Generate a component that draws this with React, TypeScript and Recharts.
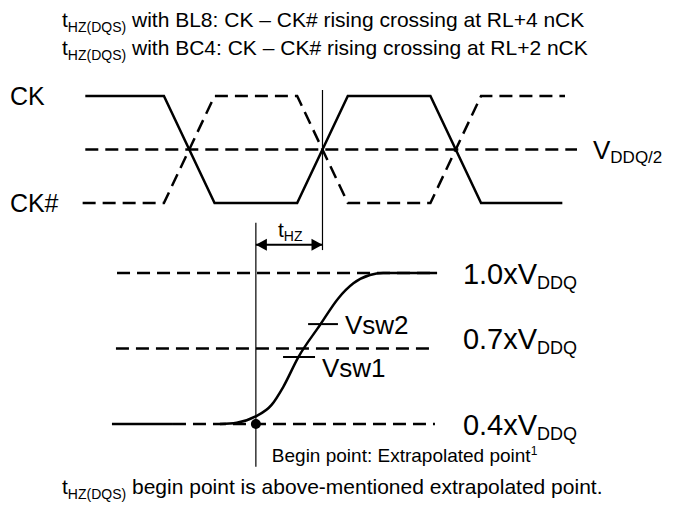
import React from "react";
import { ComposedChart, Line, XAxis, YAxis, ReferenceDot } from "recharts";

const W = 678;
const H = 509;
const FONT = "'Liberation Sans', Arial, sans-serif";

// time axis in tCK, CK / CK# cross at 0.5, 1.0 and 1.5
const ckTimes = [0.11, 0.405, 0.595, 0.905, 1.095, 1.405, 1.595, 1.9];
const ckLevels = [1, 1, 0, 0, 1, 1, 0, 0];
const ckbTimes = [0.1, 0.405, 0.595, 0.905, 1.095, 1.405, 1.595, 1.91];
const ckbLevels = [0, 0, 1, 1, 0, 0, 1, 1];
const halfLevel = 0.5;
const halfSpan = [0.11, 1.955];

const crossTime = 1.0; // CK - CK# rising crossing
const beginTime = 0.75; // extrapolated begin point
const crossLineSpan = [1.056, -0.44]; // in clock levels
const beginLineSpan = [1.2, 0.23]; // in xVDDQ
const arrowLevel = -0.39;

// DQS output, in xVDDQ
const refLevels = [1.0, 0.7, 0.4];
const refStarts = [0.229, 0.225, 0.439];
const refEnd = 1.422;
const lowSpan = [0.21, 0.439];
const dqsTimes = [0.615, 0.678, 0.747, 0.809, 0.853, 0.909, 0.991, 1.059, 1.116, 1.178, 1.228, 1.43];
const dqsValues = [0.4, 0.405, 0.429, 0.476, 0.548, 0.665, 0.794, 0.899, 0.959, 0.992, 1.0, 1.0];
const vsw1 = 0.666;
const vsw1Span = [0.852, 0.972];
const vsw2 = 0.797;
const vsw2Span = [0.946, 1.058];

// axis domains (schematic scale)
const X_DOMAIN = [-0.2101, 2.334];
const CLK_DOMAIN = [-2.8598, 1.8972];
const OUT_DOMAIN = [0.0623, 2.0848];

const pts = (ts: number[], vs: number[]) => ts.map((t, i) => ({ t, v: vs[i] }));
const hline = (span: number[], v: number) => [{ t: span[0], v }, { t: span[1], v }];
const vline = (t: number, span: number[]) => [{ t, v: span[0] }, { t, v: span[1] }];

function arrowDot(props: any) {
  const { cx, cy, index } = props;
  const d = index === 0 ? 11 : -11;
  return (
    <path
      key={`arr-${index}`}
      d={`M${cx},${cy} L${cx + d},${cy - 6} L${cx + d},${cy + 6} Z`}
      fill="#000"
    />
  );
}

function label(main: string, sub: string | null, size: number, subSize: number, dx: number, dy: number, sup?: string) {
  return (p: any) => (
    <text x={p.cx + dx} y={p.cy + dy} fontFamily={FONT} fontSize={size} fill="#000">
      {main}
      {sub && (
        <tspan fontSize={subSize} dy={subSize * 0.28}>
          {sub}
        </tspan>
      )}
      {sup && (
        <tspan fontSize={subSize} dy={-size * 0.36}>
          {sup}
        </tspan>
      )}
    </text>
  );
}

const thick = {
  stroke: "#000",
  strokeWidth: 2.5,
  dot: false,
  activeDot: false,
  isAnimationActive: false,
  type: "linear" as const,
};
const thin = { ...thick, strokeWidth: 1.2 };

function Sub({ children }: { children: React.ReactNode }) {
  return <span style={{ fontSize: 14, verticalAlign: -5 }}>{children}</span>;
}

export default function App() {
  const textRow = (top: number) => ({
    position: "absolute" as const,
    left: 62,
    top,
    fontFamily: FONT,
    fontSize: 21,
    lineHeight: "21px",
    whiteSpace: "nowrap" as const,
    color: "#000",
  });
  return (
    <div style={{ position: "absolute", left: 0, top: 0, width: W, height: H, background: "#fff" }}>
      <ComposedChart width={W} height={H} margin={{ top: 0, right: 0, bottom: 0, left: 0 }}>
        <XAxis type="number" dataKey="t" domain={X_DOMAIN} allowDataOverflow hide />
        <YAxis yAxisId="clk" type="number" domain={CLK_DOMAIN} allowDataOverflow hide />
        <YAxis yAxisId="out" type="number" domain={OUT_DOMAIN} allowDataOverflow hide />

        {/* clock */}
        <Line yAxisId="clk" data={hline(halfSpan, halfLevel)} dataKey="v" {...thick} strokeDasharray="13 7" />
        <Line yAxisId="clk" data={pts(ckbTimes, ckbLevels)} dataKey="v" {...thick} strokeDasharray="13 7" />
        <Line yAxisId="clk" data={pts(ckTimes, ckLevels)} dataKey="v" {...thick} />

        {/* tHZ */}
        <Line yAxisId="clk" data={vline(crossTime, crossLineSpan)} dataKey="v" {...thin} />
        <Line yAxisId="out" data={vline(beginTime, beginLineSpan)} dataKey="v" {...thin} />
        <Line
          yAxisId="clk"
          data={hline([beginTime, crossTime], arrowLevel)}
          dataKey="v"
          {...thick}
          strokeWidth={2}
          dot={arrowDot}
        />

        {/* reference levels */}
        {refLevels.map((lv, i) => (
          <Line
            key={lv}
            yAxisId="out"
            data={hline([refStarts[i], refEnd], lv)}
            dataKey="v"
            {...thick}
            strokeDasharray="13 7"
          />
        ))}
        <Line yAxisId="out" data={hline(lowSpan, 0.4)} dataKey="v" {...thick} />
        <Line yAxisId="out" data={pts(dqsTimes, dqsValues)} dataKey="v" {...thick} type="monotone" />
        <Line yAxisId="out" data={hline(vsw1Span, vsw1)} dataKey="v" {...thick} strokeWidth={2} />
        <Line yAxisId="out" data={hline(vsw2Span, vsw2)} dataKey="v" {...thick} strokeWidth={2} />
        <ReferenceDot yAxisId="out" x={beginTime} y={0.4} r={5} fill="#000" stroke="none" />

        {/* labels */}
        <ReferenceDot yAxisId="clk" x={-0.173} y={1} r={0} shape={label("CK", null, 25, 0, 0, 9)} />
        <ReferenceDot yAxisId="clk" x={-0.173} y={0} r={0} shape={label("CK#", null, 25, 0, 0, 9)} />
        <ReferenceDot yAxisId="clk" x={2.015} y={halfLevel} r={0} shape={label("V", "DDQ/2", 26, 17, 0, 9)} />
        <ReferenceDot yAxisId="clk" x={0.833} y={arrowLevel} r={0} shape={label("t", "HZ", 21, 14, 0, -8)} />
        <ReferenceDot yAxisId="out" x={1.527} y={1.0} r={0} shape={label("1.0xV", "DDQ", 29, 18, 0, 10.5)} />
        <ReferenceDot yAxisId="out" x={1.527} y={0.7} r={0} shape={label("0.7xV", "DDQ", 29, 18, 0, 0)} />
        <ReferenceDot yAxisId="out" x={1.527} y={0.4} r={0} shape={label("0.4xV", "DDQ", 29, 18, 0, 11)} />
        <ReferenceDot yAxisId="out" x={1.084} y={vsw2} r={0} shape={label("Vsw2", null, 26, 0, 0, 10)} />
        <ReferenceDot yAxisId="out" x={0.998} y={vsw1} r={0} shape={label("Vsw1", null, 26, 0, 0, 20)} />
        <ReferenceDot
          yAxisId="out"
          x={0.81}
          y={0.4}
          r={0}
          shape={label("Begin point: Extrapolated point", null, 19, 12, 0, 38, "1")}
        />
      </ComposedChart>

      <div style={textRow(9)}>
        t<Sub>HZ(DQS)</Sub> with BL8: CK – CK# rising crossing at RL+4 nCK
      </div>
      <div style={textRow(37)}>
        t<Sub>HZ(DQS)</Sub> with BC4: CK – CK# rising crossing at RL+2 nCK
      </div>
      <div style={textRow(476)}>
        t<Sub>HZ(DQS)</Sub> begin point is above-mentioned extrapolated point.
      </div>
    </div>
  );
}
